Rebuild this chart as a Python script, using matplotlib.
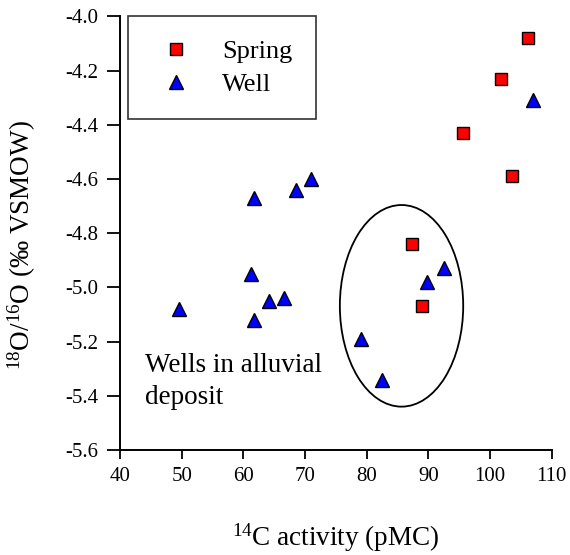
import matplotlib

matplotlib.use("Agg")
import matplotlib.pyplot as plt
from matplotlib.patches import Ellipse

plt.rcParams["font.family"] = ["Liberation Serif", "DejaVu Serif"]
plt.rcParams["mathtext.fontset"] = "custom"
plt.rcParams["mathtext.rm"] = "Liberation Serif"
plt.rcParams["mathtext.it"] = "Liberation Serif:italic"

# données
spring_c14 = [106.1, 101.8, 95.6, 103.5, 87.4, 89.0]
spring_o18 = [-4.08, -4.23, -4.43, -4.59, -4.84, -5.07]

well_c14 = [106.9, 61.7, 68.5, 70.9, 92.5, 89.7, 79.1, 82.5,
            61.3, 64.2, 66.6, 61.8, 49.5]
well_o18 = [-4.31, -4.67, -4.64, -4.60, -4.93, -4.98, -5.19, -5.34,
            -4.95, -5.05, -5.04, -5.12, -5.08]

x_ticks = [40, 50, 60, 70, 80, 90, 100, 110]
y_ticks = [-5.6, -5.4, -5.2, -5.0, -4.8, -4.6, -4.4, -4.2, -4.0]

ellipse_centre = (85.65, -5.068)
ellipse_w, ellipse_h = 20.0, 0.744

fig = plt.figure(figsize=(5.7, 5.55), dpi=100)
ax = fig.add_axes([120 / 570, 1 - 450 / 555, 431.7 / 570, 433.6 / 555])

ax.plot(spring_c14, spring_o18, "s", color="#FF0000", mec="black", mew=1.0,
        ms=9.0, label="Spring", linestyle="none")
ax.plot(well_c14, well_o18, "^", color="#0000FF", mec="black", mew=1.0,
        ms=10.5, label="Well", linestyle="none")

ax.add_patch(Ellipse(ellipse_centre, ellipse_w, ellipse_h, fill=False,
                     edgecolor="black", lw=1.3))
ax.text(44.0, -5.242, "Wells in alluvial\ndeposit", fontsize=19.5,
        ha="left", va="top", linespacing=1.37)

ax.set_xlim(40, 110)
ax.set_ylim(-5.6, -4.0)
ax.set_xticks(x_ticks, [str(v) for v in x_ticks])
ax.set_yticks(y_ticks, [f"{v:.1f}" for v in y_ticks])
ax.tick_params(axis="x", direction="out", length=6.5, width=1.3, pad=6,
               labelsize=15)
ax.tick_params(axis="y", direction="out", length=9.5, width=1.3, pad=6,
               labelsize=15)
ax.spines[["top", "right"]].set_visible(False)
for s in ["left", "bottom"]:
    ax.spines[s].set_linewidth(1.4)

ax.set_xlabel(r"$^{14}$C activity (pMC)", fontsize=19.5, labelpad=25)
ax.set_ylabel(r"$^{18}$O/$^{16}$O (‰ VSMOW)", fontsize=19.5)
ax.yaxis.set_label_coords(-0.19, 0.473)

leg = ax.legend(loc="upper left", bbox_to_anchor=(7.7 / 431.7, 1.0),
                borderaxespad=0, fontsize=19, frameon=True, fancybox=False,
                edgecolor="black", borderpad=0.88, handlelength=1.9,
                handletextpad=0.8, labelspacing=0.35)
leg.get_frame().set_linewidth(1.2)

fig.savefig("out.png", dpi=100, facecolor="white")
